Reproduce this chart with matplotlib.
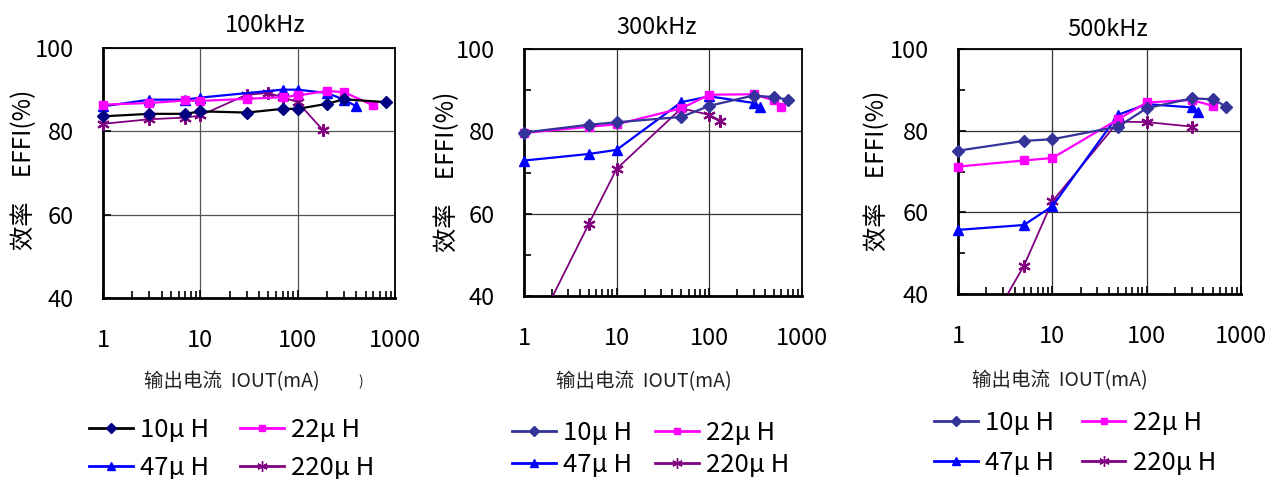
import matplotlib
matplotlib.use("Agg")
import matplotlib.pyplot as plt
import numpy as np
from matplotlib.lines import Line2D
from matplotlib.ticker import FixedLocator, NullFormatter, LogLocator
from matplotlib.transforms import Bbox, TransformedBbox

plt.rcParams['font.family'] = ['Noto Sans CJK JP', 'DejaVu Sans']

# ---------------- data ----------------
titles = ["100kHz", "300kHz", "500kHz"]
series_labels = ["10\u03bc H", "22\u03bc H", "47\u03bc H", "220\u03bc H"]

# 100 kHz
x10_100 = [1, 3, 7, 10, 30, 70, 100, 200, 300, 800]
y10_100 = [83.6, 84.2, 84.2, 84.8, 84.5, 85.4, 85.4, 86.6, 87.7, 87.0]
x22_100 = [1, 3, 7, 10, 30, 70, 100, 200, 300, 600]
y22_100 = [86.4, 86.8, 87.4, 87.3, 87.8, 88.2, 88.6, 89.7, 89.4, 86.2]
x47_100 = [1, 3, 7, 10, 70, 100, 200, 300, 400]
y47_100 = [86.0, 87.6, 87.6, 88.1, 90.0, 90.0, 89.2, 87.6, 86.0]
x220_100 = [1, 3, 7, 10, 30, 50, 70, 100, 180]
y220_100 = [81.8, 82.9, 83.3, 83.8, 88.8, 89.2, 88.2, 87.0, 80.4]

# 300 kHz
x10_300 = [1, 5, 10, 50, 100, 300, 500, 700]
y10_300 = [79.7, 81.6, 82.2, 83.5, 86.2, 88.7, 88.3, 87.7]
x22_300 = [1, 5, 10, 50, 100, 300, 500, 600]
y22_300 = [79.6, 81.1, 81.7, 85.6, 88.9, 89.0, 87.5, 85.8]
x47_300 = [1, 5, 10, 50, 100, 300, 350]
y47_300 = [72.9, 74.5, 75.5, 87.1, 88.5, 86.9, 85.9]
x220_300 = [1, 5, 10, 50, 100, 130]
y220_300 = [26.0, 57.5, 70.9, 85.6, 84.0, 82.6]

# 500 kHz
x10_500 = [1, 5, 10, 50, 100, 300, 500, 700]
y10_500 = [75.1, 77.5, 77.9, 81.0, 85.5, 87.9, 87.7, 85.9]
x22_500 = [1, 5, 10, 50, 100, 300, 500]
y22_500 = [71.2, 72.7, 73.3, 82.8, 86.9, 87.5, 86.1]
x47_500 = [1, 5, 10, 50, 100, 300, 350]
y47_500 = [55.7, 56.9, 61.5, 83.9, 86.5, 85.7, 84.5]
x220_500 = [1, 5, 10, 50, 100, 300]
y220_500 = [19.0, 46.9, 62.7, 82.2, 82.1, 81.0]

xticks = [1, 10, 100, 1000]
xticklabels = ["1", "10", "100", "1000"]
yticks = [40, 60, 80, 100]
ylabel = "\u6548\u7387\u3000EFFI(%)"
xlabel = "\u8f93\u51fa\u7535\u6d41  IOUT(mA)"

panels = [
    [(x10_100, y10_100), (x22_100, y22_100), (x47_100, y47_100), (x220_100, y220_100)],
    [(x10_300, y10_300), (x22_300, y22_300), (x47_300, y47_300), (x220_300, y220_300)],
    [(x10_500, y10_500), (x22_500, y22_500), (x47_500, y47_500), (x220_500, y220_500)],
]

# ---------------- styles ----------------
W, H = 1267, 479
fig = plt.figure(figsize=(W / 100, H / 100), dpi=100)

def fx(px):
    return px / W

def fy(py):
    return 1 - py / H

axes_px = [(103, 395, 48, 298), (524, 802, 49, 296), (958, 1241, 49, 294)]
title_px = [(265, 26), (657, 28), (1108, 29)]
ylabel_px = [(24, 170), (447, 172), (877, 171)]
xlabel_px = [(232, 382), (644, 382), (1060, 381)]
# (left px, top px, labelspacing, columnspacing)
legend_px = [(89, 417, 0.48, 1.20), (512, 420, 0.23, 0.90), (934, 410, 0.53, 1.08)]

line_colors = [
    ["#000000", "#FF00FF", "#0000FF", "#800080"],
    ["#333399", "#FF00FF", "#0000FF", "#800080"],
    ["#333399", "#FF00FF", "#0000FF", "#800080"],
]
marker_colors = [
    ["#000080", "#FF00FF", "#0000FF", "#800080"],
    ["#333399", "#FF00FF", "#0000FF", "#800080"],
    ["#333399", "#FF00FF", "#0000FF", "#800080"],
]
markers = ["D", "s", "^", (6, 2, 0)]
msizes = [6.5, 6, 7.5, 9]
lwidths = [1.6, 1.6, 1.6, 1.3]

for i, (l, r, t, b) in enumerate(axes_px):
    ax = fig.add_axes([fx(l), fy(b), fx(r - l), (b - t) / H])
    ax.set_xscale("log")
    ax.set_xlim(1, 1000)
    ax.set_ylim(40, 100)
    clipbox = TransformedBbox(Bbox([[-0.04, 0.0], [1.04, 1.03]]), ax.transAxes)
    for j, (xs, ys) in enumerate(panels[i]):
        ln, = ax.plot(xs, ys, color=line_colors[i][j], lw=lwidths[j],
                      marker=markers[j], ms=msizes[j],
                      mfc=marker_colors[i][j], mec=marker_colors[i][j],
                      mew=1.5 if j == 3 else 1.0, zorder=3 + (3 - j) * 0.1)
        ln.set_clip_box(clipbox)
    ax.set_xticks(xticks)
    ax.set_xticklabels(xticklabels)
    ax.xaxis.set_minor_locator(LogLocator(base=10, subs=np.arange(2, 10)))
    ax.xaxis.set_minor_formatter(NullFormatter())
    ax.set_yticks(yticks)
    if i > 0:
        ax.yaxis.set_minor_locator(FixedLocator([50, 70, 90]))
    ax.grid(True, which="major", color="#333333" if i else "#555555", lw=0.9)
    ax.tick_params(axis="both", which="major", direction="in", length=6,
                   width=1.2, labelsize=17, color="black")
    ax.tick_params(axis="both", which="minor", direction="in", length=5,
                   width=1.2, color="black")
    ax.tick_params(axis="y", pad=21)
    ax.tick_params(axis="x", pad=22)
    for s in ["left", "bottom"]:
        ax.spines[s].set_linewidth(2.0)
    for s in ["top", "right"]:
        ax.spines[s].set_linewidth(1.3)
    ax.set_axisbelow(True)

    tx, ty = title_px[i]
    fig.text(fx(tx), fy(ty), titles[i], ha="center", va="center", fontsize=17)
    yx, yy = ylabel_px[i]
    fig.text(fx(yx), fy(yy), ylabel, rotation=90, ha="center", va="center",
             fontsize=17.5)
    xx, xy = xlabel_px[i]
    fig.text(fx(xx), fy(xy), xlabel, ha="center", va="center", fontsize=14,
             color="#222222")

    handles = []
    for j in [0, 2, 1, 3]:
        handles.append(Line2D([], [], color=line_colors[i][j], lw=2.0,
                              marker=markers[j], ms=msizes[j] - 1.5,
                              mfc=marker_colors[i][j], mec=marker_colors[i][j]))
    labels = [series_labels[j] for j in [0, 2, 1, 3]]
    lx, ly, lsp, csp = legend_px[i]
    ax.legend(handles, labels, ncol=2, loc="upper left",
              bbox_to_anchor=(fx(lx), fy(ly)), bbox_transform=fig.transFigure,
              frameon=False, fontsize=18.5, handlelength=1.7,
              handletextpad=0.28, columnspacing=csp, labelspacing=lsp,
              borderpad=0, borderaxespad=0)

fig.text(fx(361), fy(382), ")", ha="center", va="center", fontsize=10,
         color="#222222")

fig.savefig("out.png", dpi=100)
